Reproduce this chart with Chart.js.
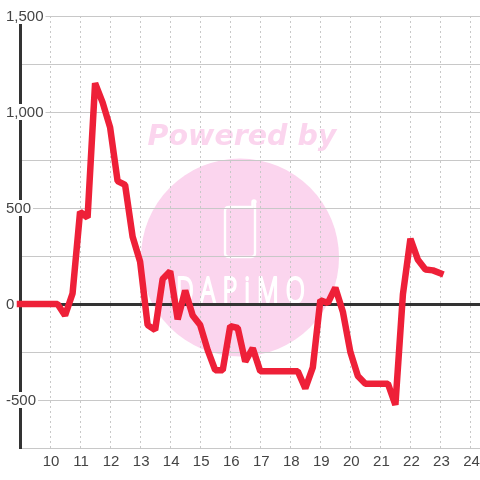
<!DOCTYPE html>
<html><head><meta charset="utf-8">
<style>html,body{margin:0;padding:0;background:#fff}canvas{display:block}</style>
<script src="https://cdn.jsdelivr.net/npm/chart.js@4"></script>
</head><body><canvas id="c" width="480" height="480"></canvas>
<script>
const hours = [9,9.25,9.5,9.75,10,10.25,10.5,10.75,11,11.25,11.5,11.75,12,12.25,12.5,12.75,13,13.25,13.5,13.75,14,14.25,14.5,14.75,15,15.25,15.5,15.75,16,16.25,16.5,16.75,17,17.25,17.5,17.75,18,18.25,18.5,18.75,19,19.25,19.5,19.75,20,20.25,20.5,20.75,21,21.25,21.5,21.75,22,22.25,22.5,22.75,23];
const values = [0,0,0,0,0,0,-60,55,480,450,1150,1050,920,640,620,350,220,-110,-135,130,170,-80,70,-60,-110,-240,-345,-345,-115,-125,-300,-230,-350,-350,-350,-350,-350,-350,-440,-330,20,5,85,-40,-250,-375,-415,-415,-415,-415,-525,50,340,230,180,175,160];
const xMin = 9, xMax = 24.3167, yMin = -750, yMax = 1500;
const xLabelFirst = 10, yLabelStep = 500;
const brandTop = "Powered by", brandName = "DAPiMO";
const pink = "#fbd5ee";

const watermark = {
  id: "watermark",
  beforeDraw(chart) {
    const c = chart.ctx;
    c.save();
    c.fillStyle = "#fff"; c.fillRect(0, 0, 480, 480);
    c.fillStyle = pink;
    c.font = "italic bold 28.5px 'DejaVu Sans'";
    c.textAlign = "center"; c.textBaseline = "alphabetic";
    c.fillText(brandTop, 242, 144.5);
    c.beginPath(); c.arc(240, 257.5, 99, 0, Math.PI * 2); c.fill();
    c.strokeStyle = "#fff"; c.lineWidth = 2.4; c.lineJoin = "round"; c.lineCap = "round";
    c.beginPath();
    c.moveTo(252, 207); c.lineTo(229, 207); c.quadraticCurveTo(225, 207, 225, 211);
    c.lineTo(225, 253); c.quadraticCurveTo(225, 257, 229, 257);
    c.lineTo(251, 257); c.quadraticCurveTo(255, 257, 255, 253);
    c.lineTo(255, 202); c.arc(254, 202, 1.5, 0, Math.PI, true); c.lineTo(252.5, 207);
    c.stroke();
    c.fillStyle = "#fff"; c.strokeStyle = "#fff"; c.lineWidth = 1.5; c.lineCap = "butt";
    c.save();
    c.translate(176, 303); c.scale(1, 1.45);
    c.font = "300 25px 'Noto Sans'";
    c.letterSpacing = "7px"; c.textAlign = "left";
    c.fillText(brandName, 0, 0);
    c.strokeText(brandName, 0, 0);
    c.restore();
    c.restore();
  }
};

new Chart(document.getElementById("c"), {
  type: "line",
  plugins: [watermark],
  data: { datasets: [{
    data: hours.map((h, i) => ({ x: h, y: values[i] })),
    borderColor: "#ee2038", borderWidth: 6.5, tension: 0, pointRadius: 0,
    borderCapStyle: "square", borderJoinStyle: "bevel", clip: false
  }] },
  options: {
    responsive: false, animation: false,
    layout: { padding: { top: 16, left: 0, right: 0, bottom: 0 } },
    plugins: { legend: { display: false }, tooltip: { enabled: false } },
    scales: {
      x: {
        type: "linear", min: xMin, max: xMax,
        afterFit(s) { s.height = 32; s.paddingLeft = 0; s.paddingRight = 0; },
        grid: { color: "#c8c8c8", lineWidth: 1, drawTicks: false },
        border: { display: false, dash: [2, 3] },
        ticks: { stepSize: 1, includeBounds: false, autoSkip: false, maxRotation: 0, padding: 5, labelOffset: 1,
          color: "#444", font: { family: "'Liberation Sans'", size: 15 },
          callback: v => v >= xLabelFirst ? String(v) : "" }
      },
      y: {
        min: yMin, max: yMax,
        afterFit(s) { s.width = 20; s.paddingTop = 0; s.paddingBottom = 0; },
        grid: { drawTicks: false,
          color: c => c.tick.value === 0 ? "#333" : "#c8c8c8",
          lineWidth: c => c.tick.value === 0 ? 3 : 1 },
        border: { color: "#333", width: 3 },
        ticks: { stepSize: 250, autoSkip: false, mirror: true, padding: -14, labelOffset: 1,
          includeBounds: false,
          showLabelBackdrop: true, backdropColor: "#fff",
          backdropPadding: { left: 2, right: 2, top: 0, bottom: -2 },
          color: "#444", font: { family: "'Liberation Sans'", size: 15 },
          callback: v => v % yLabelStep === 0 ? v.toLocaleString("en-US") : "" }
      }
    }
  }
});
</script></body></html>
